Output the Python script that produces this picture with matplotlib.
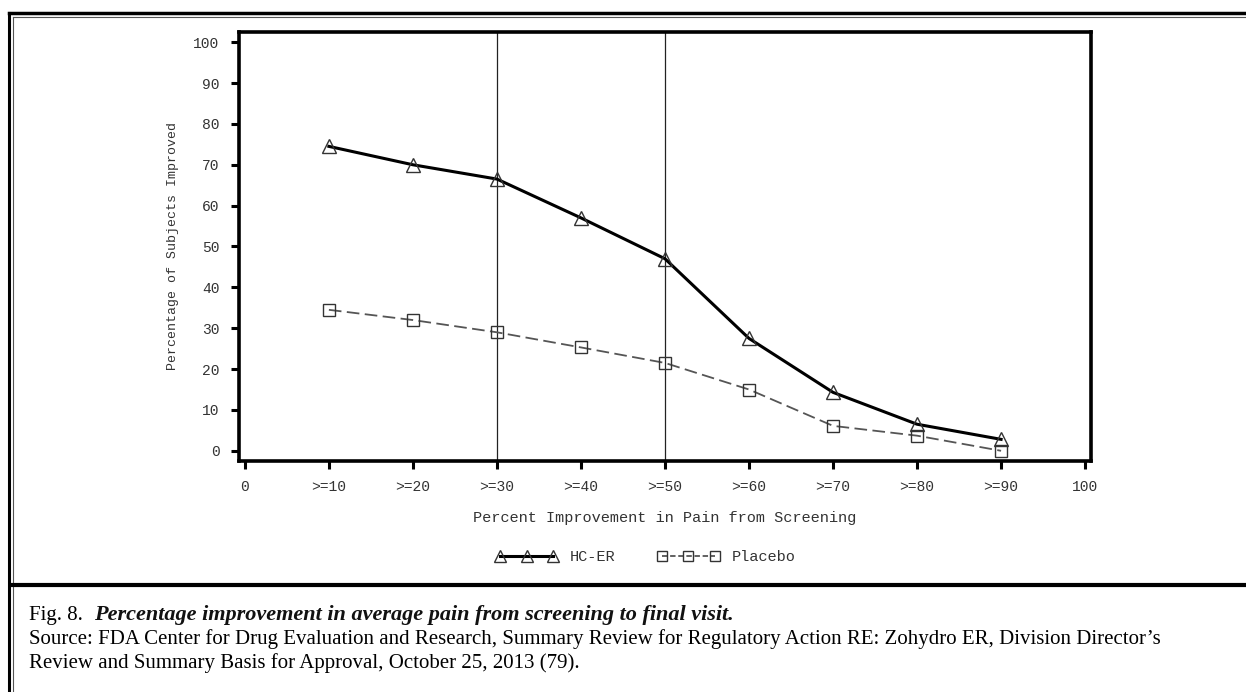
import matplotlib.pyplot as plt
from matplotlib.lines import Line2D

# data
x_pos = [10, 20, 30, 40, 50, 60, 70, 80, 90]
hc_er = [74.5, 70.0, 66.5, 57.0, 47.0, 27.5, 14.3, 6.5, 2.8]
placebo = [34.5, 32.0, 29.0, 25.3, 21.5, 15.0, 6.1, 3.7, 0.0]
xtick_vals = [0, 10, 20, 30, 40, 50, 60, 70, 80, 90, 100]
xtick_labels = ['0', '>=10', '>=20', '>=30', '>=40', '>=50',
                '>=60', '>=70', '>=80', '>=90', '100']
ytick_vals = [0, 10, 20, 30, 40, 50, 60, 70, 80, 90, 100]
ref_lines = [30, 50]

mono = 'Liberation Mono'
serif = 'Liberation Serif'
txt = '#333333'

fig = plt.figure(figsize=(12.46, 6.92), dpi=100)
ax = fig.add_axes([0.1918, 0.3338, 0.6838, 0.62])

for v in ref_lines:
    ax.axvline(v, color='#222222', lw=0.9, zorder=1)

ax.plot(x_pos, hc_er, color='black', lw=2.2, marker='^', ms=10,
        mfc='none', mec='#333333', mew=1.0, zorder=3)
ax.plot(x_pos, placebo, color='#555555', lw=1.3, ls=(0, (7, 3)),
        marker='s', ms=8.5, mfc='none', mec='#333333', mew=1.0, zorder=3)

ax.set_xlim(-0.7, 100.7)
ax.set_ylim(-2.5, 102.5)
ax.set_xticks(xtick_vals)
ax.set_xticklabels(xtick_labels)
ax.set_yticks(ytick_vals)
for s in ax.spines.values():
    s.set_linewidth(2.6)
ax.tick_params(direction='out', length=6, width=2.2, colors='black',
               labelcolor=txt, labelsize=10.5, pad=8)
for lab in ax.get_xticklabels() + ax.get_yticklabels():
    lab.set_family(mono)

ax.set_xlabel('Percent Improvement in Pain from Screening', family=mono,
              fontsize=11, color=txt, labelpad=12)
ax.set_ylabel('Percentage of Subjects Improved', family=mono,
              fontsize=9.5, color=txt, labelpad=10)

# legend below the axis
h1 = Line2D([], [], color='black', lw=2.2, marker='^', ms=8, mfc='none',
            mec='#333333', mew=1.0)
h2 = Line2D([], [], color='#555555', lw=1.3, ls=(0, (3, 1.5)), marker='s',
            ms=7, mfc='none', mec='#333333', mew=1.0)
fig.legend([h1, h2], ['HC-ER', 'Placebo'], loc='center',
           bbox_to_anchor=(0.518, 0.195), ncol=2, frameon=False,
           numpoints=3, handlelength=4.1, columnspacing=2.7,
           handletextpad=0.8, prop={'family': mono, 'size': 11},
           labelcolor=txt)

# outer frame (double rule) and divider
fig.add_artist(Line2D([0.0072, 1.0], [0.9805, 0.9805], color='black', lw=2.5))
fig.add_artist(Line2D([0.0104, 1.0], [0.9755, 0.9755], color='#555555', lw=0.8))
fig.add_artist(Line2D([0.0072, 0.0072], [0.0, 0.9805], color='black', lw=2.2))
fig.add_artist(Line2D([0.0104, 0.0104], [0.0, 0.9755], color='#555555', lw=0.8))
fig.add_artist(Line2D([0.0104, 1.0], [0.1546, 0.1546], color='black', lw=3))

# caption
cap = 15
fig.text(0.0233, 0.104, 'Fig. 8.', family=serif, fontsize=cap,
         color='black', va='baseline')
fig.text(0.0754, 0.104,
         'Percentage improvement in average pain from screening to final visit.',
         family=serif, style='italic', weight='bold',
         fontsize=16, color='#111111', va='baseline')
fig.text(0.0233, 0.0694,
         'Source: FDA Center for Drug Evaluation and Research, Summary Review '
         'for Regulatory Action RE: Zohydro ER, Division Director\u2019s',
         family=serif, fontsize=cap, color='black', va='baseline')
fig.text(0.0233, 0.0347,
         'Review and Summary Basis for Approval, October 25, 2013 (79).',
         family=serif, fontsize=cap, color='black', va='baseline')

fig.savefig('out.png', dpi=100)
